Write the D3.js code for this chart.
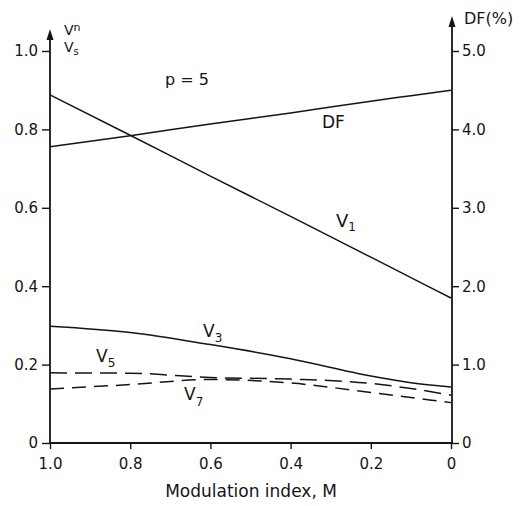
<!DOCTYPE html>
<html>
<head>
<meta charset="utf-8">
<script src="https://cdn.jsdelivr.net/npm/d3@7"></script>
<style>
  html, body { margin: 0; padding: 0; background: #fff; }
  svg { display: block; font-family: "DejaVu Sans", "Liberation Sans", Arial, sans-serif; }
</style>
</head>
<body>
<svg id="chart" width="521" height="506"></svg>
<script>
// ---- data ----
const modIndex = [1.0, 0.8, 0.6, 0.4, 0.2, 0.1, 0.0];
const v1 = [0.888, 0.785, 0.681, 0.578, 0.474, 0.422, 0.370];
const v3 = [0.298, 0.282, 0.251, 0.215, 0.171, 0.154, 0.143];
const v5 = [0.179, 0.178, 0.167, 0.163, 0.152, 0.139, 0.122];
const v7 = [0.138, 0.149, 0.162, 0.153, 0.129, 0.116, 0.103];
const dfPct = [3.78, 3.92, 4.07, 4.21, 4.36, 4.43, 4.50];
const xTicks = [1.0, 0.8, 0.6, 0.4, 0.2, 0.0];
const yTicks = [0, 0.2, 0.4, 0.6, 0.8, 1.0];
const dfTicks = [0, 1, 2, 3, 4, 5];

const FONT = "\"DejaVu Sans\", \"Liberation Sans\", Arial, sans-serif";
const svg = d3.select("#chart");
const ink = "#151515";

const x = d3.scaleLinear().domain([1, 0]).range([50, 451]);
const y = d3.scaleLinear().domain([0, 1]).range([443, 51]);
const yDF = d3.scaleLinear().domain([0, 5]).range([443, 51]);

const fmt = d => d === 0 ? "0" : d3.format(".1f")(d);

// left axis
const gL = svg.append("g").attr("transform", "translate(50,0)")
  .call(d3.axisLeft(y).tickValues(yTicks).tickFormat(fmt).tickSize(8).tickPadding(4));
// right axis
const gR = svg.append("g").attr("transform", "translate(452,0)")
  .call(d3.axisRight(yDF).tickValues(dfTicks).tickFormat(fmt).tickSize(7).tickPadding(3));
// bottom axis
const gB = svg.append("g").attr("transform", "translate(0,443)")
  .call(d3.axisBottom(x).tickValues(xTicks).tickFormat(fmt).tickSize(6).tickPadding(9));

[gL, gR, gB].forEach(g => {
  g.select(".domain").remove();
  g.selectAll("line").attr("stroke", ink).attr("stroke-width", 1.4);
  g.selectAll("text").attr("fill", ink).style("font-size", "15px").style("font-family", FONT);
});

// axis lines
svg.append("line").attr("x1", 50).attr("x2", 50).attr("y1", 444).attr("y2", 34)
  .attr("stroke", ink).attr("stroke-width", 1.8);
svg.append("line").attr("x1", 452).attr("x2", 452).attr("y1", 444).attr("y2", 21)
  .attr("stroke", ink).attr("stroke-width", 1.8);
svg.append("line").attr("x1", 49).attr("x2", 453).attr("y1", 443).attr("y2", 443)
  .attr("stroke", ink).attr("stroke-width", 1.8);
// arrowheads
svg.append("path").attr("d", "M50,29 L46.5,40 L53.5,40 Z").attr("fill", ink);
svg.append("path").attr("d", "M452,16 L448.5,27 L455.5,27 Z").attr("fill", ink);

// lines
const rows = modIndex.map((m, i) => ({ m, v1: v1[i], v3: v3[i], v5: v5[i], v7: v7[i], df: dfPct[i] }));
const mk = (key, scale) => d3.line().x(d => x(d.m)).y(d => scale(d[key])).curve(d3.curveMonotoneX);

const series = [
  { key: "v1", scale: y, dash: null },
  { key: "df", scale: yDF, dash: null },
  { key: "v3", scale: y, dash: null },
  { key: "v5", scale: y, dash: "17,8" },
  { key: "v7", scale: y, dash: "14,8" }
];
series.forEach(s => {
  svg.append("path").datum(rows)
    .attr("d", mk(s.key, s.scale))
    .attr("fill", "none").attr("stroke", ink).attr("stroke-width", 1.5)
    .attr("stroke-dasharray", s.dash);
});

// labels
function vLabel(xp, yp, sub, size, subSize, subDy) {
  const t = svg.append("text").attr("x", xp).attr("y", yp).attr("fill", ink)
    .style("font-size", size + "px").style("font-family", FONT);
  t.append("tspan").text("V");
  t.append("tspan").attr("dy", subDy).style("font-size", subSize + "px").text(sub);
}
vLabel(336, 227, "1", 18, 12, 4);
vLabel(203, 337, "3", 17, 12, 5);
vLabel(96, 362, "5", 17, 12, 5);
vLabel(184, 400, "7", 17, 12, 6);

// axis title left (Vn / Vs)
vLabel(64, 35, "n", 14, 11, -4);
vLabel(64, 52, "s", 14, 10, 3);

function txt(xp, yp, s, size, anchor) {
  svg.append("text").attr("x", xp).attr("y", yp).attr("fill", ink)
    .attr("text-anchor", anchor || "start")
    .style("font-size", size + "px").style("font-family", FONT).text(s);
}
txt(464, 24, "DF(%)", 16);
txt(165, 85, "p = 5", 16);
txt(322, 128, "DF", 17);
txt(251, 497, "Modulation index, M", 17, "middle");
</script>
</body>
</html>
